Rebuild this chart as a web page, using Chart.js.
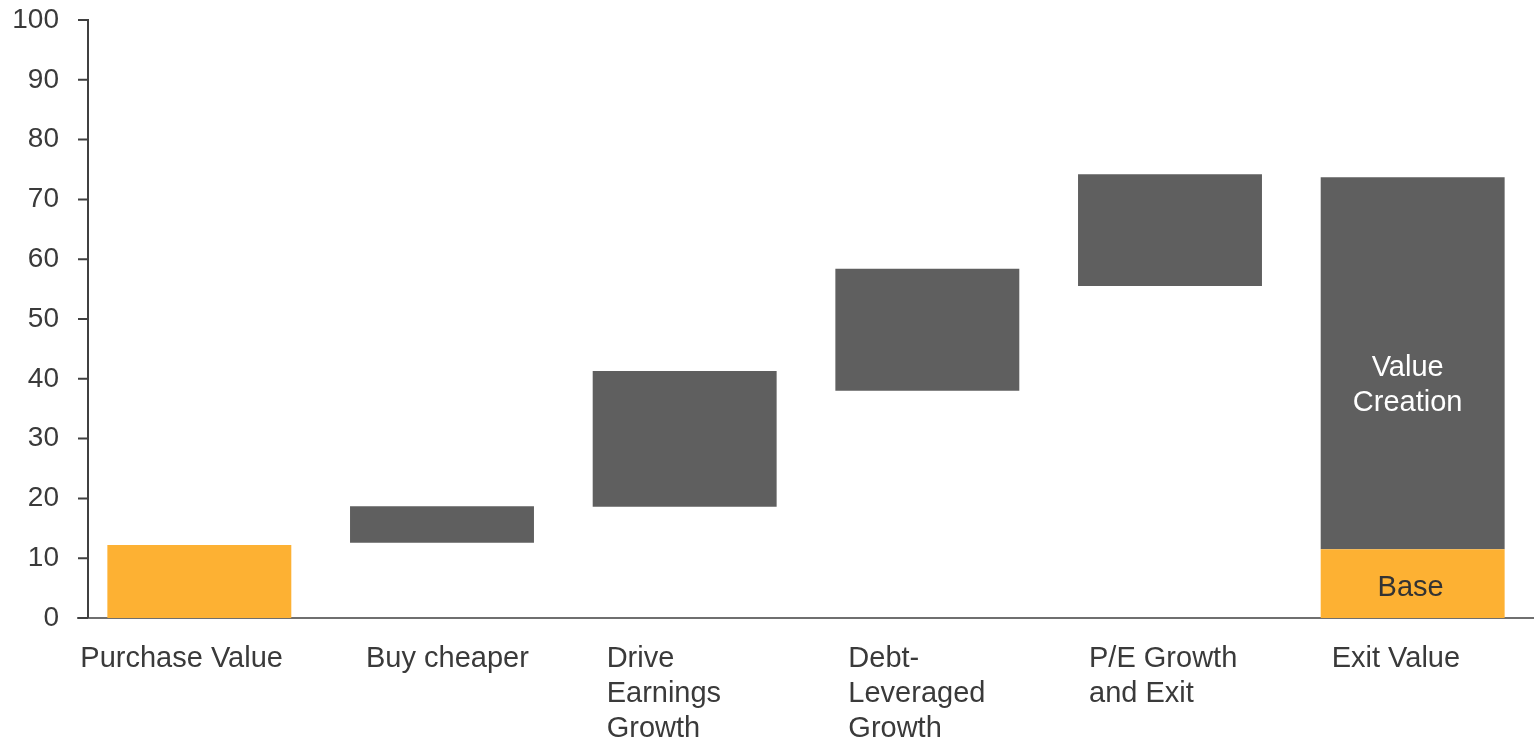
<!DOCTYPE html>
<html>
<head>
<meta charset="utf-8">
<title>Value creation waterfall</title>
<script src="https://cdn.jsdelivr.net/npm/chart.js@4/dist/chart.umd.min.js"></script>
<style>
  html, body { margin: 0; padding: 0; background: #fff; }
  #wrap { width: 1534px; height: 741px; position: relative; }
</style>
</head>
<body>
<div id="wrap"><canvas id="chart"></canvas></div>
<script>
// categories (multi-line as in the source)
const categories = [
    ['Purchase Value'],
    ['Buy cheaper'],
    ['Drive', 'Earnings', 'Growth'],
    ['Debt-', 'Leveraged', 'Growth'],
    ['P/E Growth', 'and Exit'],
    ['Exit Value']
];

// base (orange) bars: [from, to]
const baseValues = [[0, 12.2], null, null, null, null, [0, 11.5]];

// step / value creation (grey) bars: [from, to]
const stepValues = [null, [12.6, 18.7], [18.6, 41.3], [38.0, 58.4], [55.5, 74.2], [11.5, 73.7]];

const yTicks = [0, 10, 20, 30, 40, 50, 60, 70, 80, 90, 100];

const FONT = '"Liberation Sans", Arial, Helvetica, sans-serif';
const TEXT = '#3a3a3a';
const ORANGE = '#FDB133';
const GREY = '#5F5F5F';

// nudges so the wrapped category labels sit like the original
const labelShift = [-119, -76, -78, -79, -81, -81];

/**
 * Draw y axis line + tick marks (axis sits 10px right of the plot edge)
 */
const axisPlugin = {
    id: 'axisLines',
    afterDraw: function(chart) {
        const ctx = chart.ctx;
        const area = chart.chartArea;
        const y = chart.scales.y;
        const axisX = area.left + 10;

        ctx.save();
        ctx.strokeStyle = '#404040';
        ctx.lineWidth = 2;
        ctx.beginPath();
        ctx.moveTo(axisX, area.top - 1);
        ctx.lineTo(axisX, area.bottom);
        yTicks.forEach(function(t) {
            const py = y.getPixelForValue(t);
            ctx.moveTo(area.left, py);
            ctx.lineTo(axisX, py);
        });
        ctx.stroke();
        ctx.restore();
    }
};

/**
 * Category labels (left aligned, wrapped) and in-bar labels
 */
const textPlugin = {
    id: 'texts',
    afterDraw: function(chart) {
        const ctx = chart.ctx;
        const x = chart.scales.x;
        const y = chart.scales.y;
        const area = chart.chartArea;

        ctx.save();
        ctx.font = '29px ' + FONT;
        ctx.textBaseline = 'middle';
        ctx.textAlign = 'left';
        ctx.fillStyle = TEXT;
        categories.forEach(function(lines, i) {
            const lx = x.getPixelForValue(i) + labelShift[i];
            lines.forEach(function(line, k) {
                ctx.fillText(line, lx, area.bottom + 41 + k * 35);
            });
        });

        // labels inside the exit bar
        const last = categories.length - 1;
        const cx = x.getPixelForValue(last) - 5;
        ctx.textAlign = 'center';
        ctx.fillStyle = '#ffffff';
        const mid = y.getPixelForValue(38.9);
        ctx.fillText('Value', cx, mid - 17.5);
        ctx.fillText('Creation', cx, mid + 17.5);

        ctx.fillStyle = '#333333';
        ctx.fillText('Base', cx + 3, y.getPixelForValue(5.0));
        ctx.restore();
    }
};

const chart = new Chart(document.getElementById('chart'), {
    type: 'bar',
    data: {
        labels: categories,
        datasets: [
            {
                label: 'Base',
                data: baseValues,
                backgroundColor: ORANGE,
                borderWidth: 0
            },
            {
                label: 'Value Creation',
                data: stepValues,
                backgroundColor: GREY,
                borderWidth: 0
            }
        ]
    },
    options: {
        responsive: true,
        maintainAspectRatio: false,
        animation: false,
        grouped: false,
        categoryPercentage: 1,
        barPercentage: 0.758,
        layout: {
            padding: { top: 20, right: 0, bottom: 0, left: 0 }
        },
        plugins: {
            legend: { display: false },
            tooltip: { enabled: false }
        },
        scales: {
            x: {
                offset: true,
                grid: { display: false, drawTicks: false },
                border: { display: true, color: '#6f6f6f', width: 2 },
                ticks: { display: false },
                afterFit: function(scale) {
                    scale.height = 123;
                }
            },
            y: {
                min: 0,
                max: 100,
                grid: { display: false, drawTicks: false },
                border: { display: false },
                ticks: {
                    stepSize: 10,
                    padding: 19,
                    color: TEXT,
                    font: { family: FONT, size: 28 }
                },
                afterFit: function(scale) {
                    scale.width = 78;
                    scale.paddingTop = 0;
                    scale.paddingBottom = 0;
                }
            }
        }
    },
    plugins: [axisPlugin, textPlugin]
});
</script>
</body>
</html>
